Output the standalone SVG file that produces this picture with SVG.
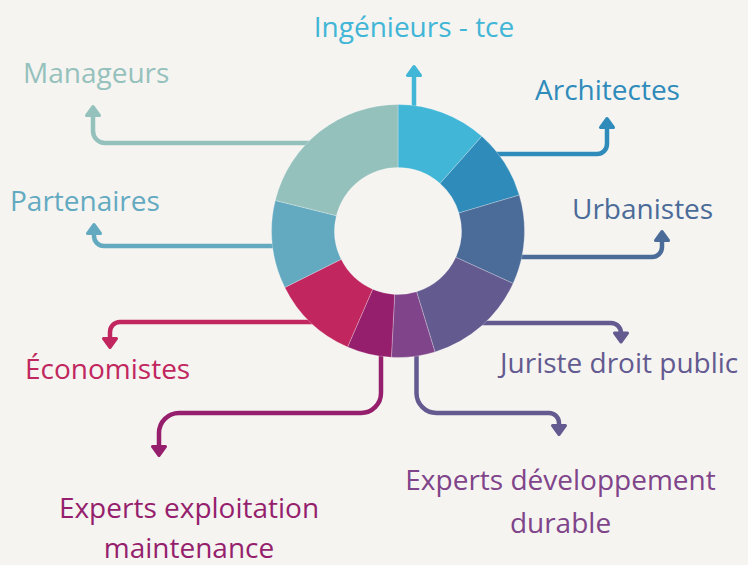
<svg xmlns="http://www.w3.org/2000/svg" width="748" height="565" viewBox="0 0 748 565">
<style>
.lbl{font-family:"Open Sans","Noto Sans","DejaVu Sans",sans-serif;font-size:28px}
.seg{stroke:#ffffff;stroke-opacity:0.35;stroke-width:0.75}
.ln{fill:none;stroke-width:4.5}
.ah{stroke-width:3;stroke-linejoin:round}
.c1{fill:#41B6D6}.s1{stroke:#41B6D6}
.c2{fill:#2E8BBA}.s2{stroke:#2E8BBA}
.c3{fill:#4B6B98}.s3{stroke:#4B6B98}
.c4{fill:#635A90}.s4{stroke:#635A90}
.c5{fill:#7F4489}.s5{stroke:#7F4489}
.c6{fill:#951F6C}.s6{stroke:#951F6C}
.c7{fill:#C1265E}.s7{stroke:#C1265E}
.c8{fill:#63AAC1}.s8{stroke:#63AAC1}
.c9{fill:#95C1BC}.s9{stroke:#95C1BC}
</style>
<rect width="748" height="565" fill="#F5F4F1"/>
<g id="connectors">
  <path class="ln s1" d="M414,120 V75"/>
  <polygon class="ah c1 s1" points="414,66.5 407.5,75.5 420.5,75.5"/>
  <path class="ln s9" d="M320,143 H105 A12,12 0 0 1 93,131 V114"/>
  <polygon class="ah c9 s9" points="93,106.5 86.5,115.5 99.5,115.5"/>
  <path class="ln s8" d="M310,246 H104 A10,10 0 0 1 94,236 V232"/>
  <polygon class="ah c8 s8" points="94,224.5 87.5,233.5 100.5,233.5"/>
  <path class="ln s2" d="M470,154 H597 A10,10 0 0 0 607,144 V127"/>
  <polygon class="ah c2 s2" points="607,118.5 600.5,127.5 613.5,127.5"/>
  <path class="ln s3" d="M500,257 H652 A10,10 0 0 0 662,247 V240"/>
  <polygon class="ah c3 s3" points="662,231.5 655.5,240.5 668.5,240.5"/>
  <path class="ln s7" d="M320,322 H120 A10,10 0 0 0 110,332 V339"/>
  <polygon class="ah c7 s7" points="110,347.5 103.5,338.5 116.5,338.5"/>
  <path class="ln s4" d="M480,323 H611 A10,10 0 0 1 621,333 V334"/>
  <polygon class="ah c4 s4" points="621,342 614.5,333 627.5,333"/>
  <path class="ln s6" d="M381,340 V393 A20,20 0 0 1 361,413 H179 A20,20 0 0 0 159,433 V447"/>
  <polygon class="ah c6 s6" points="159,455.5 152.5,446.5 165.5,446.5"/>
  <path class="ln s4" d="M416.5,340 V393 A20,20 0 0 0 436.5,413 H549 A10,10 0 0 1 559,423 V426"/>
  <polygon class="ah c4 s4" points="559,434.5 552.5,425.5 565.5,425.5"/>
</g>
<g id="ingenieurs">
  <path class="seg c1" d="M398,104.5 A126.5,126.5 0 0 1 481.82,136.25 L440.08,183.44 A63.5,63.5 0 0 0 398,167.5 Z"/>
  <text class="lbl c1" x="414" y="37" text-anchor="middle">Ingénieurs - tce</text>
</g>
<g id="architectes">
  <path class="seg c2" d="M481.82,136.25 A126.5,126.5 0 0 1 519.29,195.07 L458.88,212.97 A63.5,63.5 0 0 0 440.08,183.44 Z"/>
  <text class="lbl c2" x="535" y="100">Architectes</text>
</g>
<g id="urbanistes">
  <path class="seg c3" d="M519.29,195.07 A126.5,126.5 0 0 1 513.12,283.46 L455.79,257.33 A63.5,63.5 0 0 0 458.88,212.97 Z"/>
  <text class="lbl c3" x="572" y="219">Urbanistes</text>
</g>
<g id="juriste">
  <path class="seg c4" d="M513.12,283.46 A126.5,126.5 0 0 1 434.99,351.97 L416.57,291.73 A63.5,63.5 0 0 0 455.79,257.33 Z"/>
  <text class="lbl c4" x="500" y="373">Juriste droit public</text>
</g>
<g id="experts-dev">
  <path class="seg c5" d="M434.99,351.97 A126.5,126.5 0 0 1 391.38,357.32 L394.68,294.41 A63.5,63.5 0 0 0 416.57,291.73 Z"/>
  <text class="lbl c5" text-anchor="middle"><tspan x="560.5" y="490">Experts développement</tspan><tspan x="560.5" y="533">durable</tspan></text>
</g>
<g id="experts-exploit">
  <path class="seg c6" d="M391.38,357.32 A126.5,126.5 0 0 1 347.56,347.01 L372.68,289.24 A63.5,63.5 0 0 0 394.68,294.41 Z"/>
  <text class="lbl c6" text-anchor="middle"><tspan x="189" y="518">Experts exploitation</tspan><tspan x="189" y="558">maintenance</tspan></text>
</g>
<g id="economistes">
  <path class="seg c7" d="M347.56,347.01 A126.5,126.5 0 0 1 284.80,287.44 L341.17,259.33 A63.5,63.5 0 0 0 372.68,289.24 Z"/>
  <text class="lbl c7" x="25" y="379">Économistes</text>
</g>
<g id="partenaires">
  <path class="seg c8" d="M284.80,287.44 A126.5,126.5 0 0 1 275.26,200.40 L336.39,215.64 A63.5,63.5 0 0 0 341.17,259.33 Z"/>
  <text class="lbl c8" x="10" y="211">Partenaires</text>
</g>
<g id="manageurs">
  <path class="seg c9" d="M275.26,200.40 A126.5,126.5 0 0 1 398,104.5 L398,167.5 A63.5,63.5 0 0 0 336.39,215.64 Z"/>
  <text class="lbl c9" x="23" y="83">Manageurs</text>
</g>
</svg>
